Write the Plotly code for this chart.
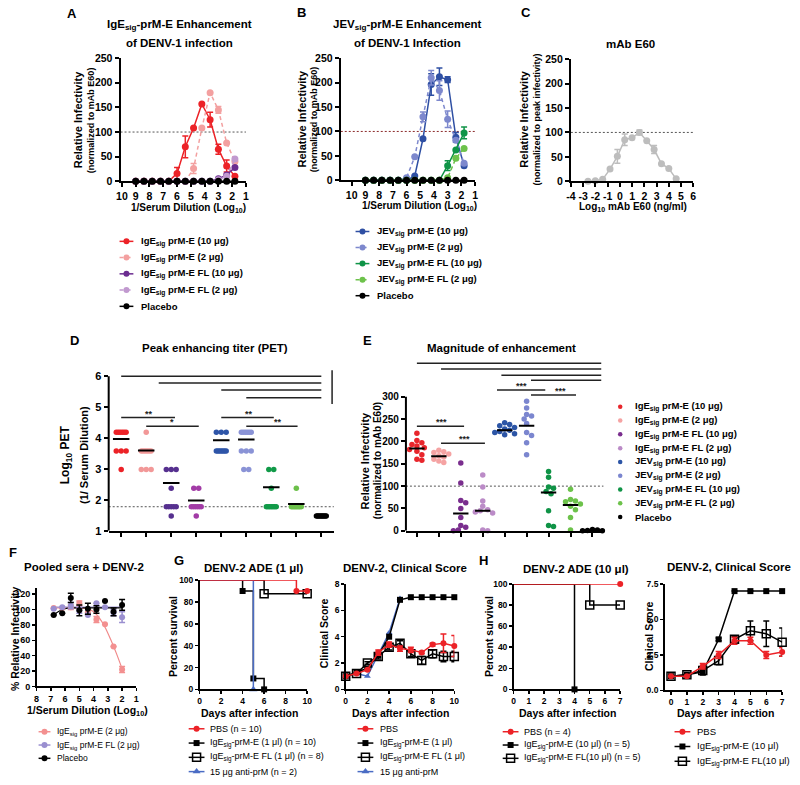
import plotly.graph_objects as go

W, H = 800, 785
FONT = "Liberation Sans, Arial, Helvetica, sans-serif"

# ===================== DATA =====================
# Panels A/B : log10 reciprocal serum dilution
dil_log = [9.0, 8.4, 7.8, 7.2, 6.6, 6.0, 5.4, 4.8, 4.2, 3.6, 3.0, 2.4, 1.8]
A_ige_10 = [0, 0, 0, 0, 0, 16, 70, 108, 157, 125, 65, 31, 10]
A_ige_10_err = [0, 0, 0, 0, 0, 12, 22, 0, 0, 15, 10, 12, 0]
A_ige_2 = [0, 0, 0, 0, 0, 0, 0, 26, 108, 180, 145, 78, 40]
A_ige_2_err = [0, 0, 0, 0, 0, 0, 0, 10, 0, 0, 7, 0, 0]
A_igefl_10 = [0, 0, 0, 0, 0, 0, 0, 0, 0, 0, 5, 13, 28]
A_igefl_2 = [0, 0, 0, 0, 0, 0, 0, 0, 0, 0, 3, 10, 45]
A_placebo = [0, 0, 0, 0, 0, 0, 0, 0, 0, 0, 0, 0, 0]

B_jev_10 = [0, 0, 0, 0, 0, 0, 9, 85, 196, 212, 206, 88, 30]
B_jev_10_err = [0, 0, 0, 0, 0, 0, 0, 0, 22, 18, 6, 10, 0]
B_jev_2 = [0, 0, 0, 0, 0, 5, 48, 130, 210, 184, 125, 82, 35]
B_jev_2_err = [0, 0, 0, 0, 0, 0, 0, 10, 15, 20, 17, 0, 0]
B_jevfl_10 = [0, 0, 0, 0, 0, 0, 0, 0, 0, 0, 30, 62, 97]
B_jevfl_10_err = [0, 0, 0, 0, 0, 0, 0, 0, 0, 0, 10, 0, 12]
B_jevfl_2 = [0, 0, 0, 0, 0, 0, 0, 0, 0, 0, 5, 45, 65]
B_placebo = [0, 0, 0, 0, 0, 0, 0, 0, 0, 0, 0, 0, 0]

# Panel C : mAb E60
C_log_ngml = [-2.6, -2.0, -1.4, -0.8, -0.2, 0.4, 1.0, 1.6, 2.2, 2.8, 3.4, 4.0, 4.6]
C_infect = [0, 1, 4, 25, 51, 85, 89, 100, 83, 65, 36, 26, 5]
C_err = [0, 0, 0, 0, 14, 12, 0, 5, 0, 8, 0, 0, 0]
C_ticks = [-4, -3, -2, -1, 0, 1, 2, 3, 4, 5, 6]
C_ticklabels = ['-4', '-3', '-2', '-1', '0', '1', '2', '3', '4', '5', '6']

# Panel D : log10 PET per group
D_groups = ["IgE prM-E 10", "IgE prM-E 2", "IgE FL 10", "IgE FL 2",
            "JEV prM-E 10", "JEV prM-E 2", "JEV FL 10", "JEV FL 2", "Placebo"]
D_vals = [
    [4.19, 4.19, 4.19, 4.19, 4.19, 4.19, 3.58, 3.58, 3.58, 2.98],
    [4.19, 3.58, 3.58, 3.58, 3.58, 3.58, 3.58, 2.98, 2.98, 2.98],
    [2.98, 2.98, 2.98, 2.38, 1.78, 1.78, 1.78, 1.78, 1.78, 1.48],
    [2.38, 2.38, 1.78, 1.78, 1.78, 1.78, 1.78, 1.78, 1.48],
    [4.19, 4.19, 4.19, 3.58, 3.58, 3.58, 3.58, 3.58, 3.58, 3.58],
    [4.19, 4.19, 4.19, 4.19, 4.19, 4.19, 3.58, 3.58, 3.58, 2.98, 2.98],
    [2.98, 2.98, 2.38, 1.78, 1.78, 1.78, 1.78, 1.78, 1.78, 1.78],
    [2.38, 1.78, 1.78, 1.78, 1.78, 1.78, 1.78, 1.78, 1.78],
    [1.48, 1.48, 1.48, 1.48, 1.48, 1.48, 1.48, 1.48, 1.48],
]
D_means = [3.97, 3.6, 2.55, 1.98, 3.93, 3.95, 2.41, 1.87, 1.48]
D_cutoff = 1.78

# Panel E : relative infectivity per group
E_vals = [
    [218, 202, 197, 193, 190, 186, 182, 178, 170, 160, 158],
    [180, 177, 175, 172, 168, 165, 160, 156, 153],
    [152, 107, 68, 63, 50, 30, 12, 8, 2, 0],
    [125, 98, 67, 55, 47, 45, 42, 40, 2, 0],
    [242, 238, 235, 231, 228, 225, 222, 220, 217, 215],
    [290, 275, 260, 257, 250, 240, 220, 213, 197, 170],
    [133, 120, 98, 95, 88, 83, 45, 12, 10],
    [93, 70, 67, 65, 60, 55, 47, 30, 2],
    [3, 2, 1, 0, 0],
]
E_means = [184, 167, 39, 45, 225, 235, 86, 58, 2]

# Panel F : pooled sera + DENV-2
F_x = [6.8, 6.2, 5.6, 5.0, 4.4, 3.8, 3.2, 2.6, 2.0]
F_ige2 = [102, 102, 103, 108, 96, 87, 81, 52, 22]
F_ige2_err = [0, 0, 3, 3, 0, 4, 0, 0, 4]
F_igefl2 = [101, 103, 105, 99, 93, 108, 103, 96, 90]
F_igefl2_err = [0, 0, 4, 4, 0, 0, 0, 4, 7]
F_placebo = [93, 95, 115, 99, 101, 100, 111, 97, 106]
F_placebo_err = [0, 0, 6, 7, 7, 5, 0, 5, 7]
F_fit_x = [6.8, 6.4, 6.0, 5.6, 5.0, 4.4, 4.0, 3.6, 3.2, 2.8, 2.4, 2.0]
F_ige2_fit = [102, 102, 102, 102, 102, 101, 97, 89, 77, 61, 43, 23]
F_igefl2_fit = [103, 103, 103, 103, 103, 103, 103, 103, 103, 103, 103, 103]
F_placebo_fit = [93, 98, 101, 102, 102, 102, 102, 102, 102, 102, 102, 102]

# Panel G : survival (1 ul) and clinical score
G_pbs_days, G_pbs_surv = [0, 9, 10], [100, 90, 90]
G_ige_days, G_ige_surv = [0, 4, 5, 6], [100, 90, 10, 0]
G_fl_days, G_fl_surv = [0, 6, 10], [100, 87.5, 87.5]
G_anti_days, G_anti_surv = [0, 5], [100, 0]
G_days = [0, 1, 2, 3, 4, 5, 6, 7, 8, 9, 10]
G_pbs_score = [1.0, 1.2, 1.5, 2.8, 3.4, 3.1, 3.0, 2.8, 3.4, 3.5, 3.3]
G_pbs_err = [0, 0, 0, 0.2, 0.2, 0.2, 0.2, 0.1, 0.1, 0.7, 0.8]
G_ige_score = [1.0, 1.3, 1.6, 2.6, 4.0, 6.8, 7.0, 7.0, 7.0, 7.0, 7.0]
G_fl_score = [1.0, 1.2, 2.0, 2.5, 3.2, 3.5, 2.7, 2.2, 2.7, 2.5, 2.5]
G_fl_err = [0, 0, 0.1, 0.2, 0.2, 0.2, 0.2, 0.3, 0.3, 0.4, 0.4]
G_anti_score_days = [0, 1, 2, 3, 4, 5]
G_anti_score = [1.0, 1.2, 1.0, 2.7, 4.3, 6.9]

# Panel H : survival (10 ul) and clinical score
H_pbs_days, H_pbs_surv = [0, 7], [100, 100]
H_ige_days, H_ige_surv = [0, 4], [100, 0]
H_fl_days, H_fl_surv = [0, 5, 7], [100, 80, 80]
H_days = [0, 1, 2, 3, 4, 5, 6, 7]
H_pbs_score = [1.0, 1.0, 1.7, 2.5, 3.5, 3.5, 2.5, 2.7]
H_pbs_err = [0, 0, 0.2, 0.25, 0.25, 0.25, 0.25, 0.3]
H_ige_score = [1.0, 1.1, 1.3, 3.6, 7.0, 7.0, 7.0, 7.0]
H_ige_err = [0, 0, 0.2, 0.1, 0, 0, 0, 0]
H_fl_score = [1.0, 1.1, 1.4, 2.1, 3.6, 4.2, 4.0, 3.4]
H_fl_err = [0, 0.1, 0.3, 0.3, 0.2, 0.7, 0.9, 1.0]

# ===================== STYLE =====================
RED, PINK = '#ec2227', '#f3a0a0'
DPURP, LPURP = '#6b2c90', '#c199cf'
BLUE, LBLUE = '#2e4fa3', '#7d88cd'
GREEN, LGREEN = '#0f9447', '#6dc24b'
GRAY = '#bdbdbd'
D_colors = [RED, '#f29898', '#56308f', '#a23ba6', '#2e55a8', '#8a93d6', '#119a48', '#6cc04a', 'black']
E_colors = ['#e8262c', '#f5a3a3', '#7a2e8e', '#bb8bc7', '#2c55a6', '#7b86cf', '#0f9346', '#6dc24b', 'black']
DASH = '4px,3px'
DOT = '2px,2px'

fig = go.Figure()
layout = {}
annotations = []
shapes = []


def an(n):
    return ('x' if n == 1 else f'x{n}', 'y' if n == 1 else f'y{n}')


def axes(n, xpx, ypx, xr, yr, xtv=None, ytv=None, lw=2, tsize=10,
         yline=True, xlabels=True, ticklen=4, ytt=None, xtt=None):
    xn, yn = an(n)
    tf = dict(family=FONT, size=tsize, color='black', weight='bold')
    common = dict(linecolor='black', linewidth=lw, ticks='outside', ticklen=ticklen,
                  tickwidth=lw, tickcolor='black', showgrid=False, zeroline=False,
                  tickfont=tf, fixedrange=True, tickangle=0)
    layout['xaxis' if n == 1 else f'xaxis{n}'] = dict(
        domain=[xpx[0] / W, xpx[1] / W], range=xr, anchor=yn, showline=True,
        tickmode='array', tickvals=xtv, ticktext=xtt, showticklabels=xlabels, **common)
    layout['yaxis' if n == 1 else f'yaxis{n}'] = dict(
        domain=[1 - ypx[1] / H, 1 - ypx[0] / H], range=yr, anchor=xn, showline=yline,
        tickmode='array', tickvals=ytv, ticktext=ytt, **common)


def T(text, x, y, size=10, bold=True, angle=0, xa='center', ya='middle', color='black'):
    annotations.append(dict(text=text, x=x / W, y=1 - y / H, xref='paper', yref='paper',
                            showarrow=False, textangle=angle, xanchor=xa, yanchor=ya,
                            font=dict(family=FONT, size=size, color=color,
                                      weight='bold' if bold else 'normal')))


def sc(n, x, y, color, mode='lines+markers', size=7, symbol='circle', dash='solid',
       lw=1.5, err=None, shape='linear', mline=None):
    xn, yn = an(n)
    kw = {}
    if err is not None:
        kw['error_y'] = dict(type='data', array=err, visible=True, color=color,
                             thickness=1.5, width=3)
    mk = dict(color=color, size=size, symbol=symbol)
    if mline:
        mk['line'] = dict(color=mline, width=1.5)
    fig.add_trace(go.Scatter(x=x, y=y, xaxis=xn, yaxis=yn, mode=mode, marker=mk,
                             line=dict(color=color, width=lw, dash=dash, shape=shape),
                             showlegend=False, cliponaxis=False, hoverinfo='skip', **kw))


def hline(n, y, color='#555555', dash=DOT, width=1):
    xn, yn = an(n)
    shapes.append(dict(type='line', xref=xn + ' domain', x0=0, x1=1, yref=yn, y0=y, y1=y,
                       line=dict(color=color, width=width, dash=dash), layer='below'))


def seg(n, x0, x1, y0, y1, width=1.5, color='#222222'):
    xn, yn = an(n)
    shapes.append(dict(type='line', xref=xn, yref=yn, x0=x0, x1=x1, y0=y0, y1=y1,
                       line=dict(color=color, width=width)))


def stars(n, text, x, y, size=9, ya='bottom', ys=-3):
    xn, yn = an(n)
    annotations.append(dict(text=text, x=x, y=y, xref=xn, yref=yn,
                            showarrow=False, xanchor='center', yanchor=ya, yshift=ys,
                            font=dict(family=FONT, size=size, color='#222222', weight='bold')))


# legend overlay in pixel space (axis 20)
LEGN = 20


def leg(xm, y, color, symbol='circle', size=7, dash='solid', half=7, lw=1.5,
        line=True, mline=None):
    xn, yn = an(LEGN)
    if line:
        fig.add_trace(go.Scatter(x=[xm - half, xm + half], y=[y, y], xaxis=xn, yaxis=yn,
                                 mode='lines', line=dict(color=color, width=lw, dash=dash),
                                 showlegend=False, hoverinfo='skip', cliponaxis=False))
    mk = dict(color=color, size=size, symbol=symbol)
    if mline:
        mk['line'] = dict(color=mline, width=1.5)
    fig.add_trace(go.Scatter(x=[xm], y=[y], xaxis=xn, yaxis=yn, mode='markers', marker=mk,
                             showlegend=False, hoverinfo='skip', cliponaxis=False))


# ===================== PANEL A =====================
axes(1, (117, 244), (53, 178), [10.1, 1], [0, 250], xtv=list(range(1, 11)),
     ytv=[0, 50, 100, 150, 200, 250], tsize=10.5)
hline(1, 100)
sc(1, dil_log, A_ige_10, RED, err=A_ige_10_err)
sc(1, dil_log, A_ige_2, PINK, dash=DASH, err=A_ige_2_err)
sc(1, dil_log, A_igefl_10, DPURP)
sc(1, dil_log, A_igefl_2, LPURP, dash=DASH)
sc(1, dil_log, A_placebo, 'black')
T('A', 68, 8, 13)
T('IgE<sub>sig</sub>-prM-E Enhancement', 177, 19, 11.5)
T('of DENV-1 infection', 177, 38, 11.5)
T('Relative Infectivity', 74, 116, 11, angle=-90)
T('(normalized to mAb E60)', 87, 116, 9, angle=-90)
T('1/Serum Dilution (Log<sub>10</sub>)', 186, 205, 10)
A_leg = [('IgE<sub>sig</sub> prM-E (10 μg)', RED, 'solid'),
         ('IgE<sub>sig</sub> prM-E (2 μg)', PINK, DASH),
         ('IgE<sub>sig</sub> prM-E FL (10 μg)', DPURP, 'solid'),
         ('IgE<sub>sig</sub> prM-E FL (2 μg)', LPURP, DASH),
         ('Placebo', 'black', 'solid')]
for i, (lab, col, ds) in enumerate(A_leg):
    yy = 239 + i * 16.5
    leg(123, yy, col, dash=ds, size=6)
    T(lab, 136, yy, 9.5, xa='left')

# ===================== PANEL B =====================
axes(2, (340, 476), (53, 177), [10.8, 1], [0, 250], xtv=list(range(1, 11)),
     ytv=[0, 50, 100, 150, 200, 250], tsize=10.5)
hline(2, 100, color='#8b2a2a')
sc(2, dil_log, B_jev_10, BLUE, err=B_jev_10_err)
sc(2, dil_log, B_jev_2, LBLUE, dash=DASH, err=B_jev_2_err)
sc(2, dil_log, B_jevfl_10, GREEN, err=B_jevfl_10_err)
sc(2, dil_log, B_jevfl_2, LGREEN, dash=DASH)
sc(2, dil_log, B_placebo, 'black')
T('B', 300, 7, 13)
T('JEV<sub>sig</sub>-prM-E Enhancement', 408, 19, 11.5)
T('of DENV-1 Infection', 408, 38, 11.5)
T('Relative Infectivity', 301, 115, 11, angle=-90)
T('(normalized to mAb E60)', 313, 115, 9, angle=-90)
T('1/Serum Dilution (Log<sub>10</sub>)', 420, 203, 10)
B_leg = [('JEV<sub>sig</sub> prM-E (10 μg)', BLUE, 'solid'),
         ('JEV<sub>sig</sub> prM-E (2 μg)', LBLUE, DASH),
         ('JEV<sub>sig</sub> prM-E FL (10 μg)', GREEN, 'solid'),
         ('JEV<sub>sig</sub> prM-E FL (2 μg)', LGREEN, DASH),
         ('Placebo', 'black', 'solid')]
for i, (lab, col, ds) in enumerate(B_leg):
    yy = 229 + i * 16.3
    leg(362, yy, col, dash=ds, size=6)
    T(lab, 375, yy, 9.5, xa='left')

# ===================== PANEL C =====================
axes(3, (573, 697), (54, 178), [-4, 6], [0, 250], xtv=C_ticks, xtt=C_ticklabels,
     ytv=[0, 50, 100, 150, 200, 250], tsize=10.5)
hline(3, 100)
sc(3, C_log_ngml, C_infect, GRAY, err=C_err)
T('C', 528, 7, 13)
T('mAb E60', 633, 39, 11.5)
T('Relative Infectivity', 526, 115, 11, angle=-90)
T('(normalized to peak infectivity)', 539, 115, 9, angle=-90)
T('Log<sub>10</sub> mAb E60 (ng/ml)', 636, 204, 10)

# ===================== PANEL D =====================
D_xscale = 25.4  # px per category
axes(4, (105, 333), (369, 533), [-0.5, 8.5], [1, 6.22], xtv=list(range(9)),
     ytv=[1, 2, 3, 4, 5, 6], yline=False, xlabels=False, tsize=11)
shapes.append(dict(type='line', xref='x4 domain', x0=0, x1=0, yref='y4', y0=1, y1=6,
                   line=dict(color='black', width=2)))
hline(4, D_cutoff)
for gi, vals in enumerate(D_vals):
    xs = [0.0] * len(vals)
    for v in sorted(set(vals)):
        idx = [j for j, w in enumerate(vals) if w == v]
        nn = len(idx)
        sp = 0 if nn == 1 else min(5.0, 10.0 / (nn - 1))
        for k, j in enumerate(idx):
            xs[j] = gi + (k - (nn - 1) / 2) * sp / D_xscale
    sc(4, xs, vals, D_colors[gi], mode='markers', size=5.5)
for gi, m in enumerate(D_means[:-1]):
    sc(4, [gi - 0.33, gi + 0.33], [m, m], 'black', mode='lines', lw=2)
D_sig = [(0, 8, 6.0), (1.5, 8, 5.78), (4, 8, 5.55), (5, 8, 5.3),
         (0, 2.15, 4.66), (1.0, 3.1, 4.38), (4.0, 6.1, 4.66), (5.0, 7.05, 4.38)]
for x0, x1, yv in D_sig:
    seg(4, x0, x1, yv, yv)
seg(4, 8.43, 8.43, 5.1, 6.19)
for txt, xx, yy in [('**', 1.1, 4.66), ('*', 2.05, 4.38), ('**', 5.1, 4.66), ('**', 6.25, 4.38)]:
    stars(4, txt, xx, yy)
stars(4, '***', 8.9, 5.65, ya='middle', ys=-2)
T('D', 70, 340, 13)
T('Peak enhancing titer (PET)', 213, 347, 11.5)
T('Log<sub>10</sub> PET', 62, 456, 12, angle=-90)
T('(1/ Serum Dilution)', 80, 456, 11, angle=-90)

# ===================== PANEL E =====================
E_xscale = 22.2
E_yscale = 136.0 / 300.0
axes(5, (406, 606), (355, 533), [-0.5, 8.5], [0, 392], xtv=list(range(9)),
     ytv=[0, 50, 100, 150, 200, 250, 300], yline=False, xlabels=False, tsize=10)
shapes.append(dict(type='line', xref='x5 domain', x0=0, x1=0, yref='y5', y0=0, y1=300,
                   line=dict(color='black', width=2)))
hline(5, 100)


def swarm(vals, d=5.0, step=2.5, cap=11.0):
    order = sorted(range(len(vals)), key=lambda i: -vals[i])
    placed, res = [], [0.0] * len(vals)
    cands = [0.0]
    j = 1
    while j * step <= cap:
        cands += [j * step, -j * step]
        j += 1
    for i in order:
        yv = vals[i] * E_yscale
        best, bestd = None, -1
        for c in cands:
            md = min([((c - pc) ** 2 + (yv - pv) ** 2) ** 0.5 for pc, pv in placed] or [99])
            if md >= d:
                best = c
                break
            if md > bestd:
                bestd, best = md, c
        placed.append((best, yv))
        res[i] = best
    return res


for gi, vals in enumerate(E_vals):
    offs = swarm(vals)
    xs = [gi + o / E_xscale for o in offs]
    sc(5, xs, vals, E_colors[gi], mode='markers', size=5.5)
for gi, m in enumerate(E_means):
    sc(5, [gi - 0.35, gi + 0.35], [m, m], 'black', mode='lines', lw=2)
E_sig = [(0, 8.4, 375), (1.1, 8.4, 362), (3.85, 8.4, 348), (5.2, 8.4, 337),
         (3.65, 5.85, 315), (5.2, 7.25, 304), (0, 2.15, 234), (1.1, 3.1, 196)]
for x0, x1, yv in E_sig:
    seg(5, x0, x1, yv, yv)
seg(5, 8.58, 8.58, 326, 388)
for txt, xx, yy in [('***', 4.77, 315), ('***', 6.55, 304), ('***', 1.13, 234), ('***', 2.16, 196)]:
    stars(5, txt, xx, yy)
stars(5, '***', 9.05, 353, ya='middle', ys=-2)
T('E', 367, 340, 13)
T('Magnitude of enhancement', 503, 347, 11.5)
T('Relative Infectivity', 364, 462, 11, angle=-90)
T('(normalized to mAb E60)', 378, 462, 10, angle=-90)
E_leg = ['IgE<sub>sig</sub> prM-E (10 μg)', 'IgE<sub>sig</sub> prM-E (2 μg)',
         'IgE<sub>sig</sub> prM-E FL (10 μg)', 'IgE<sub>sig</sub> prM-E FL (2 μg)',
         'JEV<sub>sig</sub> prM-E (10 μg)', 'JEV<sub>sig</sub> prM-E (2 μg)',
         'JEV<sub>sig</sub> prM-E FL (10 μg)', 'JEV<sub>sig</sub> prM-E FL (2 μg)', 'Placebo']
for i, lab in enumerate(E_leg):
    yy = 407 + i * 14.0
    leg(623, yy, E_colors[i], size=4.5, line=False)
    T(lab, 636, yy, 9.5, xa='left')

# ===================== PANEL F =====================
axes(6, (32, 133), (591, 691), [8, 1], [0, 128], xtv=list(range(1, 9)),
     ytv=[0, 20, 40, 60, 80, 100, 120], lw=1.5, tsize=9, ticklen=3)
sc(6, F_fit_x, F_ige2_fit, '#f08a8a', mode='lines', shape='spline', lw=1.2)
sc(6, F_fit_x, F_igefl2_fit, '#9a8fd0', mode='lines', shape='spline', lw=1.2)
sc(6, F_fit_x, F_placebo_fit, 'black', mode='lines', shape='spline', lw=1.2)
sc(6, F_x, F_ige2, '#f39090', mode='markers', size=6, err=F_ige2_err)
sc(6, F_x, F_igefl2, '#9a8fd0', mode='markers', size=6, err=F_igefl2_err)
sc(6, F_x, F_placebo, 'black', mode='markers', size=6, err=F_placebo_err)
T('F', 8, 555, 13)
T('Pooled sera + DENV-2', 80, 570, 11.5)
T('% Relative Infectivity', 10, 642, 10.5, angle=-90)
T('1/Serum Dilution (Log<sub>10</sub>)', 84, 716, 10.5)
F_leg = [('IgE<sub>sig</sub> prM-E (2 μg)', '#f39090'),
         ('IgE<sub>sig</sub> prM-E FL (2 μg)', '#9a8fd0'),
         ('Placebo', 'black')]
for i, (lab, col) in enumerate(F_leg):
    yy = 737 + i * 13.5
    leg(40, yy, col, size=6, half=6)
    T(lab, 51, yy, 8.5, bold=False, xa='left')

# ===================== PANEL G =====================
axes(7, (197, 306), (583, 694), [0, 10], [0, 100], xtv=[0, 2, 4, 6, 8, 10],
     ytv=[0, 20, 40, 60, 80, 100], lw=1.5, tsize=8.5, ticklen=3)
GBLUE = '#4a6cc4'
sc(7, G_fl_days, G_fl_surv, 'black', mode='lines', shape='hv')
sc(7, G_fl_days[1:], G_fl_surv[1:], 'black', mode='markers', symbol='square-open', size=8, mline='black')
sc(7, G_ige_days, G_ige_surv, 'black', mode='lines', shape='hv')
sc(7, G_ige_days[1:], G_ige_surv[1:], 'black', mode='markers', symbol='square', size=6)
sc(7, G_anti_days, G_anti_surv, GBLUE, mode='lines', shape='hv')
sc(7, G_anti_days[1:], G_anti_surv[1:], GBLUE, mode='markers', symbol='triangle-up', size=7)
sc(7, G_pbs_days, G_pbs_surv, RED, mode='lines', shape='hv')
sc(7, G_pbs_days[1:], G_pbs_surv[1:], RED, mode='markers', size=6)
T('G', 176, 563, 13)
T('DENV-2 ADE (1 μl)', 252, 571, 11.5)
T('Percent survival', 170, 640, 10.5, angle=-90)
T('Days after infection', 248, 718, 10.5)

axes(8, (345, 455), (587, 694), [0, 10], [0, 8], xtv=[0, 2, 4, 6, 8, 10],
     ytv=[0, 2, 4, 6, 8], lw=1.5, tsize=8.5, ticklen=3)
sc(8, G_anti_score_days, G_anti_score, GBLUE, symbol='triangle-up', size=6)
sc(8, G_days, G_ige_score, 'black', symbol='square', size=6)
sc(8, G_days, G_fl_score, 'black', symbol='square-open', size=8, err=G_fl_err, mline='black')
sc(8, G_days, G_pbs_score, RED, size=6, err=G_pbs_err)
T('DENV-2, Clinical Score', 405, 571, 11.5)
T('Clinical Score', 323, 637, 10.5, angle=-90)
T('Days after infection', 400, 718, 10.5)

G_leg1 = [('PBS (n = 10)', RED, 'circle', 6),
          ('IgE<sub>sig</sub>-prM-E (1 μl) (n = 10)', 'black', 'square', 6),
          ('IgE<sub>sig</sub>-prM-E FL (1 μl) (n = 8)', 'black', 'square-open', 8),
          ('15 μg anti-prM (n = 2)', GBLUE, 'triangle-up', 7)]
G_leg2 = [('PBS', RED, 'circle', 6),
          ('IgE<sub>sig</sub>-prM-E (1 μl)', 'black', 'square', 6),
          ('IgE<sub>sig</sub>-prM-E FL (1 μl)', 'black', 'square-open', 8),
          ('15 μg anti-prM', GBLUE, 'triangle-up', 7)]
for i, (lab, col, sym, sz) in enumerate(G_leg1):
    yy = 734 + i * 14.5
    leg(194, yy, col, symbol=sym, size=sz, half=8, mline=col if sym == 'square-open' else None)
    T(lab, 206, yy, 9, bold=False, xa='left')
for i, (lab, col, sym, sz) in enumerate(G_leg2):
    yy = 734 + i * 14.5
    leg(365, yy, col, symbol=sym, size=sz, half=8, mline=col if sym == 'square-open' else None)
    T(lab, 378, yy, 9, bold=False, xa='left')

# ===================== PANEL H =====================
axes(9, (515, 623), (587, 694), [0, 7], [0, 100], xtv=list(range(8)),
     ytv=[0, 20, 40, 60, 80, 100], lw=1.5, tsize=8.5, ticklen=3)
sc(9, H_fl_days, H_fl_surv, 'black', mode='lines', shape='hv')
sc(9, H_fl_days[1:], H_fl_surv[1:], 'black', mode='markers', symbol='square-open', size=8, mline='black')
sc(9, H_ige_days, H_ige_surv, 'black', mode='lines', shape='hv')
sc(9, H_ige_days[1:], H_ige_surv[1:], 'black', mode='markers', symbol='square', size=6)
sc(9, H_pbs_days, H_pbs_surv, RED, mode='lines', shape='hv')
sc(9, H_pbs_days[1:], H_pbs_surv[1:], RED, mode='markers', size=6)
T('H', 485, 563, 13)
T('DENV-2 ADE (10 μl)', 578, 572, 11.5)
T('Percent survival', 490, 640, 10.5, angle=-90)
T('Days after infection', 570, 718, 10.5)

axes(10, (668, 787), (587, 695), [-0.4, 7], [0, 7.5], xtv=list(range(8)),
     ytv=[0, 2.5, 5.0, 7.5], ytt=['0.0', '2.5', '5.0', '7.5'], lw=1.5, tsize=8.5, ticklen=3)
sc(10, H_days, H_ige_score, 'black', symbol='square', size=6, err=H_ige_err)
sc(10, H_days, H_fl_score, 'black', symbol='square-open', size=8, err=H_fl_err, mline='black')
sc(10, H_days, H_pbs_score, RED, size=6, err=H_pbs_err)
T('DENV-2, Clinical Score', 733, 570, 11.5)
T('Clinical Score', 652, 640, 10.5, angle=-90)
T('Days after infection', 730, 718, 10.5)

H_leg1 = [('PBS (n = 4)', RED, 'circle', 6),
          ('IgE<sub>sig</sub>-prM-E (10 μl) (n = 5)', 'black', 'square', 6),
          ('IgE<sub>sig</sub>-prM-E FL(10 μl) (n = 5)', 'black', 'square-open', 8)]
H_leg2 = [('PBS', RED, 'circle', 6),
          ('IgE<sub>sig</sub>-prM-E (10 μl)', 'black', 'square', 6),
          ('IgE<sub>sig</sub>-prM-E FL(10 μl)', 'black', 'square-open', 8)]
for i, (lab, col, sym, sz) in enumerate(H_leg1):
    yy = 737 + i * 13.5
    leg(512, yy, col, symbol=sym, size=sz, half=8, mline=col if sym == 'square-open' else None)
    T(lab, 524, yy, 9, bold=False, xa='left')
for i, (lab, col, sym, sz) in enumerate(H_leg2):
    yy = 737 + i * 15
    leg(686, yy, col, symbol=sym, size=sz, half=8, mline=col if sym == 'square-open' else None)
    T(lab, 699, yy, 9.5, bold=False, xa='left')

# legend overlay axes
layout['xaxis20'] = dict(domain=[0, 1], range=[0, W], visible=False, fixedrange=True, anchor='y20')
layout['yaxis20'] = dict(domain=[0, 1], range=[H, 0], visible=False, fixedrange=True, anchor='x20')

fig.update_layout(
    width=W, height=H, margin=dict(l=0, r=0, t=0, b=0),
    paper_bgcolor='white', plot_bgcolor='rgba(0,0,0,0)',
    font=dict(family=FONT, color='black'),
    showlegend=False, annotations=annotations, shapes=shapes, **layout)

fig.write_html("out.html",
               config={'displayModeBar': False, 'staticPlot': True},
               post_script="document.body.style.margin='0px';document.body.style.overflow='hidden';")
